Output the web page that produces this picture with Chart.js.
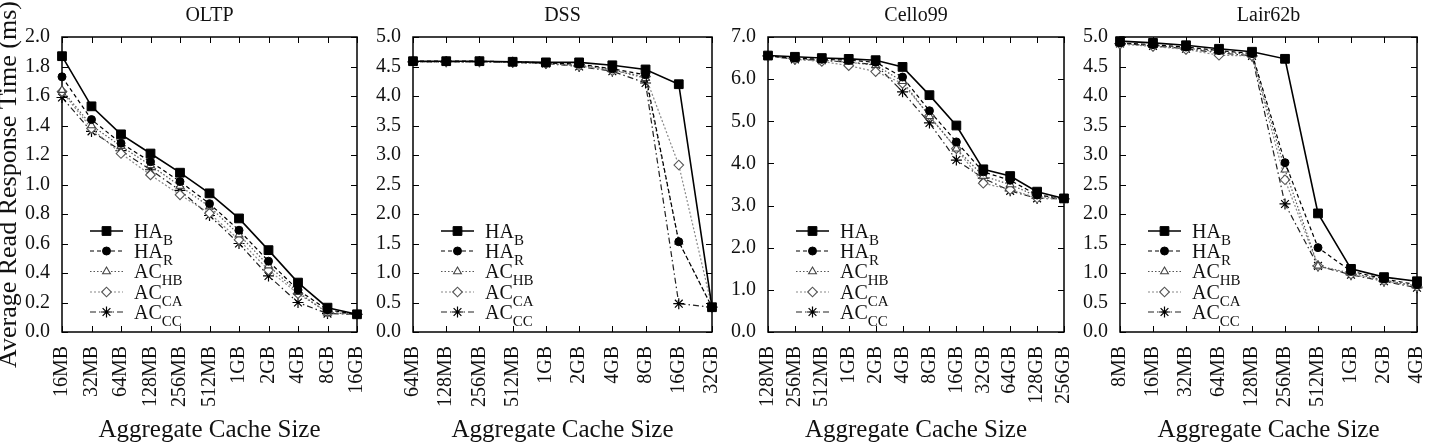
<!DOCTYPE html>
<html><head><meta charset="utf-8">
<script src="https://cdn.jsdelivr.net/npm/chart.js@4.4.1/dist/chart.umd.min.js"></script>
<style>
html,body{margin:0;padding:0;background:#fff;}
#wrap{position:relative;width:1431px;height:444px;overflow:hidden;background:#fff;}
canvas{position:absolute;left:0;top:0;}
</style></head><body>
<div id="wrap">
<canvas id="c0" width="1431" height="444"></canvas>
<canvas id="c1" width="1431" height="444"></canvas>
<canvas id="c2" width="1431" height="444"></canvas>
<canvas id="c3" width="1431" height="444"></canvas>
</div>
<script>
// ---------- data ----------
const legendMain = ['HA', 'HA', 'AC', 'AC', 'AC'];
const legendSub  = ['B', 'R', 'HB', 'CA', 'CC'];

const oltpLabels = ['16MB','32MB','64MB','128MB','256MB','512MB','1GB','2GB','4GB','8GB','16GB'];
const oltpHAB  = [1.87, 1.53, 1.34, 1.21, 1.08, 0.94, 0.77, 0.555, 0.335, 0.165, 0.12];
const oltpHAR  = [1.73, 1.44, 1.28, 1.155, 1.02, 0.87, 0.69, 0.48, 0.285, 0.15, 0.12];
const oltpACHB = [1.64, 1.40, 1.26, 1.13, 0.99, 0.85, 0.66, 0.45, 0.27, 0.13, 0.12];
const oltpACCA = [1.63, 1.38, 1.21, 1.065, 0.93, 0.805, 0.625, 0.42, 0.26, 0.135, 0.12];
const oltpACCC = [1.59, 1.36, 1.23, 1.10, 0.96, 0.79, 0.60, 0.38, 0.20, 0.125, 0.12];

const dssLabels = ['64MB','128MB','256MB','512MB','1GB','2GB','4GB','8GB','16GB','32GB'];
const dssHAB  = [4.59, 4.59, 4.59, 4.58, 4.57, 4.57, 4.52, 4.45, 4.20, 0.42];
const dssHAR  = [4.59, 4.59, 4.59, 4.58, 4.56, 4.54, 4.46, 4.36, 1.53, 0.42];
const dssACHB = [4.58, 4.58, 4.58, 4.57, 4.55, 4.52, 4.45, 4.30, 1.53, 0.42];
const dssACCA = [4.58, 4.58, 4.58, 4.57, 4.55, 4.51, 4.43, 4.33, 2.83, 0.42];
const dssACCC = [4.58, 4.58, 4.58, 4.57, 4.55, 4.50, 4.42, 4.22, 0.48, 0.42];

const celloLabels = ['128MB','256MB','512MB','1GB','2GB','4GB','8GB','16GB','32GB','64GB','128GB','256GB'];
const celloHAB  = [6.56, 6.53, 6.50, 6.48, 6.45, 6.29, 5.62, 4.90, 3.86, 3.70, 3.33, 3.17];
const celloHAR  = [6.55, 6.50, 6.47, 6.45, 6.40, 6.05, 5.25, 4.51, 3.80, 3.60, 3.25, 3.17];
const celloACHB = [6.55, 6.48, 6.45, 6.40, 6.33, 5.95, 5.12, 4.35, 3.70, 3.50, 3.22, 3.17];
const celloACCA = [6.55, 6.47, 6.42, 6.32, 6.18, 5.90, 5.13, 4.35, 3.53, 3.38, 3.18, 3.16];
const celloACCC = [6.55, 6.47, 6.45, 6.40, 6.35, 5.70, 4.96, 4.08, 3.65, 3.35, 3.17, 3.16];

const lairLabels = ['8MB','16MB','32MB','64MB','128MB','256MB','512MB','1GB','2GB','4GB'];
const lairHAB  = [4.93, 4.90, 4.86, 4.80, 4.75, 4.63, 2.01, 1.07, 0.93, 0.86];
const lairHAR  = [4.90, 4.87, 4.83, 4.77, 4.72, 2.87, 1.43, 1.03, 0.90, 0.80];
const lairACHB = [4.89, 4.86, 4.81, 4.75, 4.70, 2.75, 1.12, 1.00, 0.88, 0.78];
const lairACCA = [4.88, 4.84, 4.79, 4.69, 4.68, 2.58, 1.12, 0.98, 0.87, 0.77];
const lairACCC = [4.89, 4.85, 4.80, 4.73, 4.68, 2.17, 1.12, 0.97, 0.86, 0.75];

// ---------- styling ----------
const FONT = '"Liberation Serif", "DejaVu Serif", "Times New Roman", serif';
Chart.defaults.font.family = FONT;
Chart.defaults.color = '#111';

const seriesStyle = [
  {borderColor:'#000', borderWidth:1.6, borderDash:[], pointStyle:'rect', pointRadius:6.2, pointBackgroundColor:'#000', pointBorderColor:'#000', pointBorderWidth:1},
  {borderColor:'#000', borderWidth:1.2, borderDash:[4,3], pointStyle:'circle', pointRadius:4, pointBackgroundColor:'#000', pointBorderColor:'#000', pointBorderWidth:1},
  {borderColor:'#555', borderWidth:1.2, borderDash:[1.5,2], pointStyle:'triangle', pointRadius:4.5, pointBackgroundColor:'#fff', pointBorderColor:'#444', pointBorderWidth:1.1},
  {borderColor:'#888', borderWidth:1.2, borderDash:[2,2], pointStyle:'rectRot', pointRadius:4.8, pointBackgroundColor:'#fff', pointBorderColor:'#555', pointBorderWidth:1.1},
  {borderColor:'#222', borderWidth:1.2, borderDash:[6,3,1.5,3], pointStyle:'star', pointRadius:5.5, pointBackgroundColor:'#000', pointBorderColor:'#000', pointBorderWidth:1.2}
];

const framePlugin = {
  id: 'frame',
  beforeDatasetsDraw(chart) {
    const {ctx, chartArea: a} = chart;
    const x = chart.scales.x, y = chart.scales.y;
    const tl = 6;
    ctx.save();
    ctx.strokeStyle = '#000';
    ctx.lineWidth = 1;
    ctx.beginPath();
    x.ticks.forEach((t, i) => {
      const px = Math.round(x.getPixelForTick(i)) + 0.5;
      ctx.moveTo(px, a.bottom); ctx.lineTo(px, a.bottom - tl);
      ctx.moveTo(px, a.top); ctx.lineTo(px, a.top + tl);
    });
    y.ticks.forEach((t, i) => {
      const py = Math.round(y.getPixelForTick(i)) + 0.5;
      ctx.moveTo(a.left, py); ctx.lineTo(a.left + tl, py);
      ctx.moveTo(a.right, py); ctx.lineTo(a.right - tl, py);
    });
    ctx.stroke();
    ctx.lineWidth = 1.5;
    ctx.strokeRect(a.left, a.top, a.right - a.left, a.bottom - a.top);
    ctx.restore();
  }
};

const legendPlugin = {
  id: 'subLegend',
  afterDatasetsDraw(chart) {
    const {ctx, chartArea: a} = chart;
    const rows = [-101, -81, -60.5, -40, -20];
    chart.data.datasets.forEach((ds, i) => {
      const y = a.bottom + rows[i];
      const x0 = a.left + 28, x1 = a.left + 61, xm = (x0 + x1) / 2;
      ctx.save();
      ctx.strokeStyle = ds.borderColor; ctx.lineWidth = ds.borderWidth;
      ctx.setLineDash(ds.borderDash || []);
      ctx.beginPath(); ctx.moveTo(x0, y); ctx.lineTo(x1, y); ctx.stroke();
      ctx.setLineDash([]);
      ctx.fillStyle = ds.pointBackgroundColor; ctx.strokeStyle = ds.pointBorderColor;
      ctx.lineWidth = ds.pointBorderWidth;
      Chart.helpers.drawPoint(ctx, {pointStyle: ds.pointStyle, radius: ds.pointRadius, rotation: 0, borderWidth: ds.pointBorderWidth}, xm, y);
      ctx.fillStyle = '#111'; ctx.textBaseline = 'alphabetic'; ctx.textAlign = 'left';
      ctx.font = '20px ' + FONT;
      const m = legendMain[i];
      ctx.fillText(m, a.left + 72, y + 6.5);
      const w = ctx.measureText(m).width;
      ctx.font = '15px ' + FONT;
      ctx.fillText(legendSub[i], a.left + 72 + w, y + 13.5);
      ctx.restore();
    });
  }
};

const panels = [
  {id:'c0', title:'OLTP',     labels:oltpLabels,  series:[oltpHAB, oltpHAR, oltpACHB, oltpACCA, oltpACCC], max:2.0, step:0.2, L:62,   R:357,  yTitle:true},
  {id:'c1', title:'DSS',      labels:dssLabels,   series:[dssHAB, dssHAR, dssACHB, dssACCA, dssACCC],       max:5.0, step:0.5, L:413,  R:712,  yTitle:false},
  {id:'c2', title:'Cello99',  labels:celloLabels, series:[celloHAB, celloHAR, celloACHB, celloACCA, celloACCC], max:7.0, step:1.0, L:768, R:1064, yTitle:false},
  {id:'c3', title:'Lair62b',  labels:lairLabels,  series:[lairHAB, lairHAR, lairACHB, lairACCA, lairACCC],  max:5.0, step:0.5, L:1120, R:1417, yTitle:false}
];

const YW = 62;
panels.forEach(p => {
  new Chart(document.getElementById(p.id), {
    type: 'line',
    data: {
      labels: p.labels,
      datasets: p.series.map((vals, i) => Object.assign({
        label: legendMain[i] + '_' + legendSub[i],
        data: vals,
        tension: 0,
        fill: false,
        clip: false
      }, seriesStyle[i]))
    },
    options: {
      responsive: false,
      animation: false,
      events: [],
      layout: {padding: {left: p.L - YW, right: 1431 - p.R, top: 0, bottom: 0}},
      plugins: {
        legend: {display: false},
        tooltip: {enabled: false},
        title: {
          display: true, text: p.title, fullSize: false, color: '#111',
          font: {family: FONT, size: 20, weight: 'normal', lineHeight: 1.2},
          padding: {top: 4, bottom: 9}
        }
      },
      scales: {
        x: {
          type: 'category',
          offset: false,
          grid: {display: false, drawTicks: false},
          border: {display: false},
          ticks: {autoSkip: false, maxRotation: 90, minRotation: 90, padding: 14, color: '#111',
                  font: {family: FONT, size: 20}},
          title: {display: true, text: 'Aggregate Cache Size', color: '#111',
                  font: {family: FONT, size: 25, lineHeight: 1.1}, padding: {top: 0, bottom: 0}},
          afterFit(s) { s.height = 112; s.paddingLeft = 0; s.paddingRight = 0; }
        },
        y: {
          min: 0, max: p.max,
          grid: {display: false, drawTicks: false},
          border: {display: false},
          ticks: {stepSize: p.step, padding: 12, color: '#111', font: {family: FONT, size: 20},
                  callback: v => Number(v).toFixed(1)},
          title: {display: p.yTitle, text: 'Average Read Response Time (ms)', color: '#111',
                  font: {family: FONT, size: 26, lineHeight: 0.7}, padding: {top: 0, bottom: 0}},
          afterFit(s) { s.width = YW; s.paddingTop = 0; s.paddingBottom = 0; }
        }
      }
    },
    plugins: [framePlugin, legendPlugin]
  });
});
</script>
</body></html>
